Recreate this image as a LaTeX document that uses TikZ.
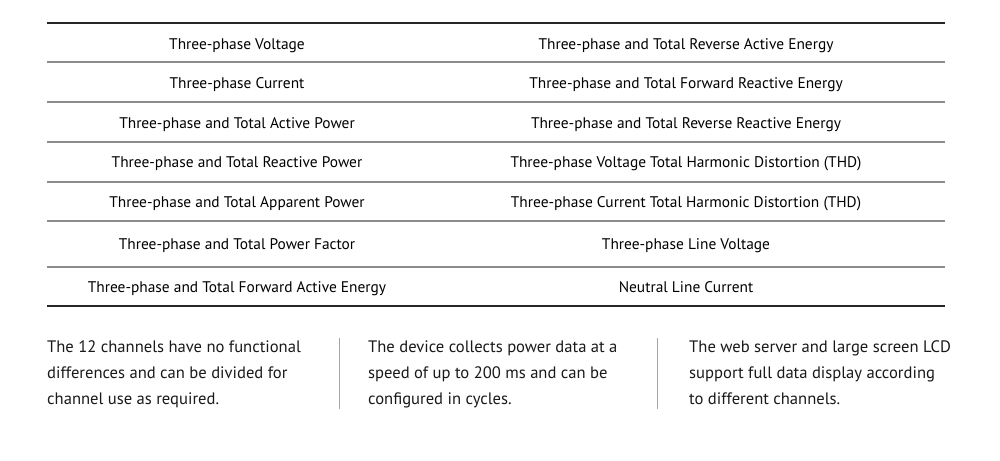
\documentclass[tikz,border=0pt]{standalone}
\usepackage{fontspec}
\setmainfont{PT Sans}
\usetikzlibrary{positioning}

\begin{document}
\begin{tikzpicture}[x=1pt,y=-1pt,
  cell/.style={anchor=base,inner sep=0pt,text=black,font=\fontsize{15.4}{17}\selectfont},
  note/.style={anchor=base west,inner sep=0pt,align=left,text=black!90,font=\fontsize{16.6}{26}\selectfont},
  rule/.style={line width=2pt,black!85},
  midrule/.style={line width=1.2pt,black!45},
  sepline/.style={line width=1pt,black!35}]
  \useasboundingbox (0,0) rectangle (1000,460);
  \def\xl{47} % left edge of the table
  \def\xr{945} % right edge of the table
  \def\colL{237} % centre of the left column
  \def\colR{686} % centre of the right column
  % rules of the table
  \draw[rule] (\xl,23) -- (\xr,23);
  \draw[rule] (\xl,306) -- (\xr,306);
  \foreach \y in {62,102,142,182,221,267} {
    \draw[midrule] (\xl,\y) -- (\xr,\y);
  }
  % cells, row by row
  \foreach \y/\a/\b [count=\i] in {
    49/{Three-phase Voltage}/{Three-phase and Total Reverse Active Energy},
    88.5/{Three-phase Current}/{Three-phase and Total Forward Reactive Energy},
    128.5/{Three-phase and Total Active Power}/{Three-phase and Total Reverse Reactive Energy},
    167.5/{Three-phase and Total Reactive Power}/{Three-phase Voltage Total Harmonic Distortion (THD)},
    207/{Three-phase and Total Apparent Power}/{Three-phase Current Total Harmonic Distortion (THD)},
    249.5/{Three-phase and Total Power Factor}/{Three-phase Line Voltage},
    292/{Three-phase and Total Forward Active Energy}/{Neutral Line Current}} {
    \node[cell] (l\i) at (\colL,\y) {\a};
    \node[cell] (r\i) at (\colR,\y) {\b};
  }
  % notes below the table (placed at the baseline of their last line)
  \node[note] (n1) at (47,404.5) {The 12 channels have no functional\\differences and can be divided for\\channel use as required.};
  \node[note] (n2) at (368,404.5) {The device collects power data at a\\speed of up to 200 ms and can be\\configured in cycles.};
  \node[note] (n3) at (689,404.5) {The web server and large screen LCD\\support full data display according\\to different channels.};
  \foreach \x in {339,657} {
    \draw[sepline] (\x,338) -- (\x,409);
  }
\end{tikzpicture}
\end{document}
